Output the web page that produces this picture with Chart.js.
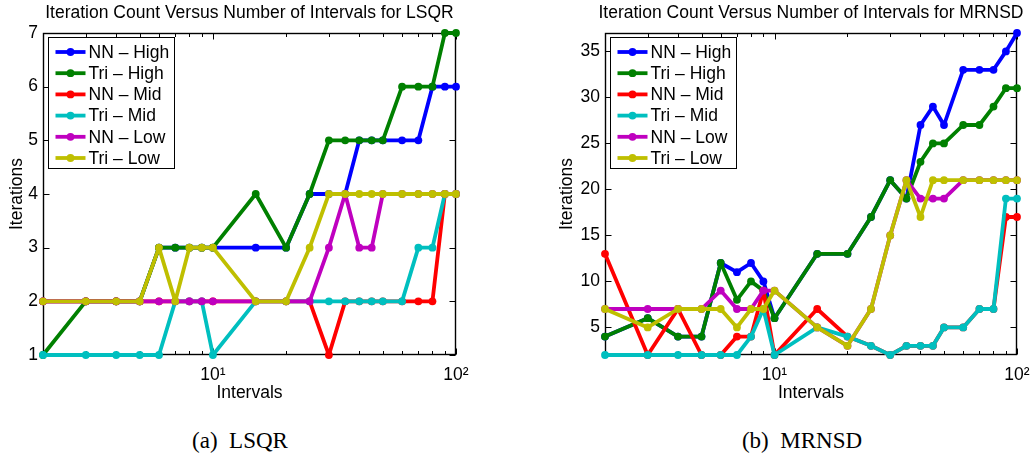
<!DOCTYPE html>
<html>
<head>
<meta charset="utf-8">
<script src="https://cdn.jsdelivr.net/npm/chart.js@4.4.1/dist/chart.umd.min.js"></script>
<style>
  html, body { margin: 0; padding: 0; background: #fff; }
  #wrap { position: relative; width: 1033px; height: 460px; overflow: hidden; }
  canvas { position: absolute; top: 0; }
  .cap { position: absolute; top: 428px; transform: translateX(-50%);
         font-family: "Liberation Serif", "Times New Roman", serif; font-size: 23px;
         line-height: 26px; white-space: pre; color: #000; }
</style>
</head>
<body>
<div id="wrap">
  <canvas id="lsqr" width="499" height="410" style="left:0px"></canvas>
  <canvas id="mrnsd" width="508" height="410" style="left:557px"></canvas>
  <div class="cap" style="left:240px">(a)&#8194;LSQR</div>
  <div class="cap" style="left:802px">(b)&#8194;MRNSD</div>
</div>
<script>
// Number of intervals (shared x values, log axis)
const intervals = [2, 3, 4, 5, 6, 7, 8, 9, 10, 15, 20, 25, 30, 35, 40, 45, 50, 60, 70, 80, 90, 100];
const xMajorTicks = [10, 100];
const xMajorLabels = ['10\u00B9', '10\u00B2'];
const xMinorTicks = [3, 4, 5, 6, 7, 8, 9, 20, 30, 40, 50, 60, 70, 80, 90];

const seriesNames = ['NN \u2013 High', 'Tri \u2013 High', 'NN \u2013 Mid', 'Tri \u2013 Mid', 'NN \u2013 Low', 'Tri \u2013 Low'];
const seriesColors = ['#0000ff', '#008000', '#ff0000', '#00bfbf', '#bf00bf', '#bfbf00'];

// LSQR iteration counts
const lsqrNNHigh  = [2, 2, 2, 2, 3, 3, 3, 3, 3, 3, 3, 4, 4, 4, 5, 5, 5, 5, 5, 6, 6, 6];
const lsqrTriHigh = [1, 2, 2, 2, 3, 3, 3, 3, 3, 4, 3, 4, 5, 5, 5, 5, 5, 6, 6, 6, 7, 7];
const lsqrNNMid   = [2, 2, 2, 2, 2, 2, 2, 2, 2, 2, 2, 2, 1, 2, 2, 2, 2, 2, 2, 2, 4, 4];
const lsqrTriMid  = [1, 1, 1, 1, 1, 2, 2, 2, 1, 2, 2, 2, 2, 2, 2, 2, 2, 2, 3, 3, 4, 4];
const lsqrNNLow   = [2, 2, 2, 2, 2, 2, 2, 2, 2, 2, 2, 2, 3, 4, 3, 3, 4, 4, 4, 4, 4, 4];
const lsqrTriLow  = [2, 2, 2, 2, 3, 2, 3, 3, 3, 2, 2, 3, 4, 4, 4, 4, 4, 4, 4, 4, 4, 4];
const lsqrYTicks  = [1, 2, 3, 4, 5, 6, 7];

// MRNSD iteration counts
const mrnsdNNHigh  = [4, 6, 4, 4, 12, 11, 12, 10, 6, 13, 13, 17, 21, 19, 27, 29, 27, 33, 33, 33, 35, 37];
const mrnsdTriHigh = [4, 6, 4, 4, 12, 8, 10, 9, 6, 13, 13, 17, 21, 19, 23, 25, 25, 27, 27, 29, 31, 31];
const mrnsdNNMid   = [13, 2, 7, 2, 2, 4, 4, 9, 2, 7, 4, 3, 2, 3, 3, 3, 5, 5, 7, 7, 17, 17];
const mrnsdTriMid  = [2, 2, 2, 2, 2, 2, 4, 7, 2, 5, 4, 3, 2, 3, 3, 3, 5, 5, 7, 7, 19, 19];
const mrnsdNNLow   = [7, 7, 7, 7, 9, 7, 7, 9, 9, 5, 3, 7, 15, 21, 19, 19, 19, 21, 21, 21, 21, 21];
const mrnsdTriLow  = [7, 5, 7, 7, 7, 5, 7, 7, 9, 5, 3, 7, 15, 21, 17, 21, 21, 21, 21, 21, 21, 21];
const mrnsdYTicks  = [5, 10, 15, 20, 25, 30, 35];

const FONT = '"Liberation Sans", Arial, Helvetica, sans-serif';
const TXT = 17.5;
const LINE_W = 3.8;
const DOT_R = 3.9;

// Box frame with inward ticks on all four sides
const axesFrame = {
  id: 'axesFrame',
  beforeDatasetsDraw(chart) {
    const { ctx, chartArea: a, scales: { x, y } } = chart;
    ctx.save();
    ctx.strokeStyle = '#000';
    ctx.lineWidth = 1;
    const L = Math.round(a.left) + 0.5, R = Math.round(a.right) - 0.5;
    const T = Math.round(a.top) + 0.5, B = Math.round(a.bottom) - 0.5;
    ctx.beginPath();
    const vt = (v, len) => {
      const px = Math.round(x.getPixelForValue(v)) + 0.5;
      ctx.moveTo(px, B); ctx.lineTo(px, B - len);
      ctx.moveTo(px, T); ctx.lineTo(px, T + len);
    };
    xMajorTicks.forEach(v => vt(v, 6));
    xMinorTicks.forEach(v => vt(v, 3.5));
    y.ticks.forEach(t => {
      const py = Math.round(y.getPixelForValue(t.value)) + 0.5;
      ctx.moveTo(L, py); ctx.lineTo(L + 6, py);
      ctx.moveTo(R, py); ctx.lineTo(R - 6, py);
    });
    ctx.stroke();
    ctx.lineWidth = 1.4;
    ctx.strokeRect(L, T, R - L, B - T);
    ctx.restore();
  }
};

// Legend box in the upper left corner of the plot area
const cornerLegend = {
  id: 'cornerLegend',
  afterDatasetsDraw(chart) {
    const { ctx, chartArea: a } = chart;
    const bx = Math.round(a.left) + 5.5, by = Math.round(a.top) + 4.5, w = 126, h = 131;
    ctx.save();
    ctx.fillStyle = '#fff';
    ctx.fillRect(bx, by, w, h);
    ctx.strokeStyle = '#000';
    ctx.lineWidth = 1;
    ctx.strokeRect(bx, by, w, h);
    ctx.font = TXT + 'px ' + FONT;
    ctx.textBaseline = 'middle';
    ctx.textAlign = 'left';
    chart.data.datasets.forEach((ds, i) => {
      const cy = by + 14.5 + i * 21.2;
      ctx.strokeStyle = ds.borderColor;
      ctx.lineWidth = LINE_W;
      ctx.beginPath();
      ctx.moveTo(bx + 7, cy); ctx.lineTo(bx + 37, cy);
      ctx.stroke();
      ctx.fillStyle = ds.borderColor;
      ctx.beginPath();
      ctx.arc(bx + 22, cy, DOT_R, 0, Math.PI * 2);
      ctx.fill();
      ctx.fillStyle = '#000';
      ctx.fillText(ds.label, bx + 40, cy + 1);
    });
    ctx.restore();
  }
};

function makeChart(id, cfg) {
  const n = seriesNames.length;
  return new Chart(document.getElementById(id), {
    type: 'line',
    data: {
      datasets: cfg.series.map((vals, i) => ({
        label: seriesNames[i],
        data: intervals.map((xv, k) => ({ x: xv, y: vals[k] })),
        borderColor: seriesColors[i],
        backgroundColor: seriesColors[i],
        pointBackgroundColor: seriesColors[i],
        pointBorderWidth: 0,
        pointRadius: DOT_R,
        borderWidth: LINE_W,
        borderJoinStyle: 'round',
        tension: 0,
        clip: false,
        order: n - 1 - i
      }))
    },
    options: {
      responsive: false,
      animation: false,
      events: [],
      layout: { padding: 0 },
      plugins: {
        legend: { display: false },
        tooltip: { enabled: false },
        title: {
          display: true, text: cfg.title, color: '#000',
          font: { family: FONT, size: TXT, weight: 'normal', lineHeight: 1.2 },
          padding: { top: 3, bottom: 9 }
        }
      },
      scales: {
        x: {
          type: 'logarithmic', position: 'bottom', min: 2, max: 100,
          afterBuildTicks: s => { s.ticks = xMajorTicks.map(v => ({ value: v, major: true })); },
          ticks: {
            autoSkip: false, maxRotation: 0, padding: 10, color: '#000',
            font: { family: FONT, size: TXT },
            callback: v => { const k = xMajorTicks.indexOf(v); return k >= 0 ? xMajorLabels[k] : ''; }
          },
          grid: { display: false, drawTicks: false },
          border: { display: false },
          title: { display: true, text: 'Intervals', color: '#000',
                   font: { family: FONT, size: TXT, lineHeight: 1 }, padding: { top: 0, bottom: 8 } },
          afterFit: s => { s.height = 55; }
        },
        y: {
          position: 'left', min: cfg.yMin, max: cfg.yMax,
          afterBuildTicks: s => { s.ticks = cfg.yTicks.map(v => ({ value: v })); },
          ticks: { padding: 5, color: '#000', font: { family: FONT, size: TXT } },
          grid: { display: false, drawTicks: false },
          border: { display: false },
          title: { display: true, text: 'Iterations', color: '#000',
                   font: { family: FONT, size: TXT, lineHeight: 1 }, padding: { top: cfg.yTitlePad, bottom: 0 } },
          afterFit: s => { s.width = cfg.leftW; }
        },
        y2: {
          position: 'right', min: cfg.yMin, max: cfg.yMax,
          ticks: { display: false },
          grid: { display: false, drawTicks: false },
          border: { display: false },
          afterFit: s => { s.width = cfg.rightW; }
        }
      }
    },
    plugins: [axesFrame, cornerLegend]
  });
}

makeChart('lsqr', {
  title: 'Iteration Count Versus Number of Intervals for LSQR',
  series: [lsqrNNHigh, lsqrTriHigh, lsqrNNMid, lsqrTriMid, lsqrNNLow, lsqrTriLow],
  yMin: 1, yMax: 7, yTicks: lsqrYTicks, yTitlePad: 8, leftW: 43, rightW: 43
});

makeChart('mrnsd', {
  title: 'Iteration Count Versus Number of Intervals for MRNSD',
  series: [mrnsdNNHigh, mrnsdTriHigh, mrnsdNNMid, mrnsdTriMid, mrnsdNNLow, mrnsdTriLow],
  yMin: 2, yMax: 37, yTicks: mrnsdYTicks, yTitlePad: 1.5, leftW: 48, rightW: 48
});
</script>
</body>
</html>
